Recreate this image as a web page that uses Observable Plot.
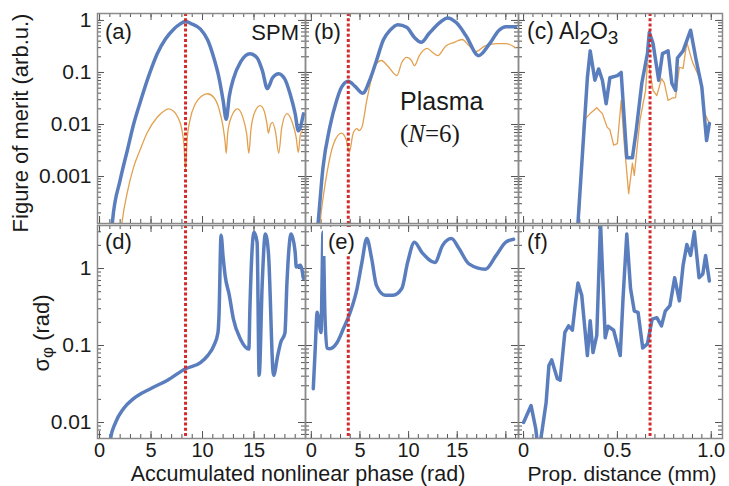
<!DOCTYPE html>
<html><head><meta charset="utf-8">
<script src="https://cdn.jsdelivr.net/npm/d3@7"></script>
<script src="https://cdn.jsdelivr.net/npm/@observablehq/plot@0.6"></script>
<style>
html,body{margin:0;padding:0;background:#fff;}
#chart{position:relative;width:729px;height:486px;overflow:hidden;font-family:"Liberation Sans",Arial,sans-serif;}
</style></head><body><div id="chart"></div>
<script>
// ---------- data: [x, value] ----------
const spmBlue = [[1.1,5e-5],[1.26,1.4e-4],[2.0,8.5e-4],[2.7,3.2e-3],[3.3,0.01],[4.0,0.029],[4.8,0.089],[5.6,0.23],[6.4,0.44],[7.2,0.68],[7.8,0.85],[8.35,0.95],[9.0,0.85],[9.8,0.68],[10.5,0.42],[11.1,0.19],[11.6,0.079],[12.0,0.029],[12.3,0.0126],[12.6,0.035],[13.0,0.076],[13.7,0.16],[14.6,0.23],[15.3,0.19],[15.8,0.11],[16.3,0.049],[16.8,0.079],[17.4,0.095],[18.0,0.074],[18.5,0.039],[19.0,0.016],[19.3,0.0076],[19.8,0.016]];
const spmOrange = [[2.0,6e-5],[2.2,1.4e-4],[2.7,5e-4],[3.3,1.5e-3],[4.0,3.5e-3],[4.6,6.8e-3],[5.6,0.0138],[6.2,0.0178],[6.7,0.02],[7.2,0.018],[7.6,0.0138],[8.0,0.0079],[8.2,0.004],[8.35,0.0014],[8.5,0.005],[8.8,0.0126],[9.3,0.025],[9.9,0.035],[10.5,0.039],[11.1,0.033],[11.6,0.02],[12.0,0.0089],[12.2,0.0045],[12.3,0.0028],[12.45,0.007],[12.8,0.014],[13.4,0.02],[13.9,0.014],[14.3,0.0063],[14.5,0.0028],[14.7,0.0079],[15.1,0.0178],[15.6,0.023],[16.0,0.0178],[16.25,0.0105],[16.4,0.0068],[16.6,0.01],[16.8,0.011],[17.1,0.007],[17.4,0.0028],[17.7,0.0089],[18.2,0.0162],[18.7,0.0112],[19.1,0.0056],[19.3,0.0029],[19.5,0.0063],[19.7,0.0076]];
const plasmaBlue = [[0.5,5e-5],[0.7,1.3e-4],[1.2,1.5e-3],[1.9,8.9e-3],[2.6,0.029],[3.1,0.052],[3.8,0.068],[4.5,0.054],[5.3,0.04],[6.0,0.071],[6.7,0.17],[7.4,0.42],[8.1,0.65],[8.9,0.83],[9.8,0.74],[10.6,0.47],[11.3,0.38],[12.1,0.56],[13.2,0.91],[14.0,1.12],[14.9,0.91],[15.9,0.51],[17.2,0.21],[18.3,0.35],[19.3,0.65],[20.0,0.76],[21.0,0.76]];
const plasmaOrange = [[0.7,5e-5],[0.9,1.3e-4],[1.6,1.15e-3],[2.3,4.3e-3],[3.1,6.8e-3],[3.6,5e-3],[3.9,2.9e-3],[4.3,6.8e-3],[4.7,8.3e-3],[4.9,7.6e-3],[5.2,8.9e-3],[5.7,0.029],[6.2,0.079],[6.7,0.148],[7.2,0.17],[7.9,0.13],[8.8,0.087],[9.3,0.155],[9.8,0.195],[10.3,0.17],[10.6,0.135],[11.1,0.21],[11.9,0.29],[12.5,0.24],[13.0,0.21],[13.8,0.32],[14.7,0.38],[15.5,0.43],[16.2,0.33],[16.9,0.25],[17.8,0.32],[19.0,0.36],[20.0,0.36],[21.0,0.30]];
const al2o3Blue = [[0.285,5e-5],[0.29,1.3e-4],[0.34,0.079],[0.355,0.26],[0.38,0.071],[0.40,0.117],[0.42,0.071],[0.44,0.025],[0.46,0.079],[0.50,0.087],[0.52,0.1],[0.55,0.0023],[0.58,0.0023],[0.60,0.0076],[0.63,0.062],[0.66,0.23],[0.67,0.59],[0.69,0.36],[0.72,0.071],[0.74,0.23],[0.77,0.26],[0.79,0.062],[0.81,0.045],[0.82,0.19],[0.85,0.26],[0.89,0.65],[0.92,0.17],[0.95,0.052],[0.975,0.0049],[0.99,0.0105]];
const al2o3Orange = [[0.29,5e-5],[0.295,1.3e-4],[0.32,0.012],[0.355,0.0162],[0.39,0.021],[0.42,0.0162],[0.445,0.0089],[0.46,0.0079],[0.48,0.004],[0.50,0.0043],[0.52,0.029],[0.535,0.005],[0.56,4.7e-4],[0.58,1.8e-3],[0.59,1.05e-3],[0.62,0.012],[0.65,0.045],[0.66,0.148],[0.67,0.126],[0.69,0.045],[0.71,0.036],[0.735,0.076],[0.75,0.063],[0.77,0.029],[0.79,0.032],[0.81,0.033],[0.83,0.126],[0.85,0.12],[0.87,0.38],[0.90,0.158],[0.94,0.076],[0.965,0.0162],[0.99,0.0105]];
const spmSigma = [[1.0,0.004],[1.07,0.0062],[1.55,0.01],[2.3,0.015],[3.3,0.0204],[4.95,0.0275],[6.6,0.0355],[8.35,0.05],[9.8,0.06],[10.5,0.074],[11.1,0.1],[11.5,0.148],[11.6,0.245],[11.8,2.7],[12.0,1.4],[12.2,0.8],[12.6,0.45],[13.0,0.22],[13.7,0.12],[14.5,0.09],[14.6,0.3],[15.0,2.95],[15.3,2.2],[15.5,0.041],[15.8,0.66],[16.1,2.8],[16.4,1.6],[16.9,0.041],[17.3,0.074],[17.6,0.11],[18.0,0.145],[18.2,0.66],[18.6,2.8],[19.0,1.6],[19.1,1.05],[19.5,1.1],[19.8,0.74]];
const plasmaSigma = [[0.2,0.0275],[0.4,0.091],[0.6,0.27],[0.7,0.24],[1.0,0.148],[1.1,0.66],[1.2,2.95],[1.4,0.245],[1.6,0.093],[1.9,0.091],[2.6,0.107],[3.3,0.166],[4.0,0.27],[4.7,0.55],[5.2,1.2],[5.7,2.45],[6.2,1.35],[6.7,0.6],[7.6,0.45],[8.4,0.45],[9.3,0.55],[9.9,1.2],[10.6,2.2],[11.4,1.6],[12.7,1.2],[13.5,2.0],[14.4,2.45],[15.2,1.8],[16.2,1.15],[17.9,0.98],[19.0,1.48],[20.0,2.2],[20.8,2.4]];
const al2o3Sigma = [[0.0,0.01],[0.04,0.0166],[0.065,0.0083],[0.08,0.004],[0.10,0.0083],[0.12,0.018],[0.135,0.055],[0.15,0.065],[0.18,0.037],[0.195,0.0355],[0.22,0.148],[0.24,0.18],[0.26,0.158],[0.275,0.33],[0.29,0.65],[0.31,0.45],[0.34,0.074],[0.355,0.21],[0.37,0.081],[0.39,0.135],[0.41,4.0],[0.435,0.126],[0.45,0.178],[0.48,0.158],[0.515,0.074],[0.53,0.41],[0.55,2.8],[0.57,0.55],[0.59,0.28],[0.61,0.27],[0.635,0.093],[0.66,0.105],[0.685,0.22],[0.71,0.23],[0.735,0.18],[0.755,0.28],[0.78,0.33],[0.805,0.76],[0.83,0.38],[0.85,1.1],[0.87,2.05],[0.89,1.48],[0.91,3.0],[0.935,0.76],[0.955,0.85],[0.97,1.48],[0.99,0.69]];

const spmOptimum = 8.35;      // rad
const plasmaOptimum = 3.8;    // rad
const al2o3Optimum = 0.674;   // mm

// ---------- ticks ----------
const phaseTickValues = [0, 5, 10, 15];
const phaseTickLabels = ["0", "5", "10", "15"];
const phaseMajor = [0, 5, 10, 15, 20];
const phaseMinor = d3.range(0, 22, 1);
const distTickValues = [0, 0.5, 1.0];
const distTickLabels = ["0", "0.5", "1.0"];
const distMajor = [0, 0.5, 1.0];
const distMinor = d3.range(0, 21).map(i => i * 0.05);
const fomTickValues = [1, 0.1, 0.01, 0.001];
const fomTickLabels = ["1", "0.1", "0.01", "0.001"];
const sigmaTickValues = [1, 0.1, 0.01];
const sigmaTickLabels = ["1", "0.1", "0.01"];

const BLUE = "#5a7ebd", ORANGE = "#e3a04f", RED = "#d42a2a";
const FONT = "'Liberation Sans', Arial, sans-serif";

const topY = [1.25e-4, 1.36], botY = [0.0062, 3.62];
const phaseXa = [-0.2, 20.0], phaseXb = [-0.6, 21.3], distX = [-0.027, 1.06];

function logMinor(dom) {
  return d3.scaleLog().domain(dom).ticks().filter(v => v > dom[0] && v < dom[1]);
}
function logMajor(dom) {
  return logMinor(dom).filter(v => Math.abs(Math.log10(v) - Math.round(Math.log10(v))) < 1e-9);
}

function panel(o) {
  const W = o.w, H = o.h;
  const inX = v => v >= o.xDomain[0] && v <= o.xDomain[1];
  const xMinor = o.xMinor.filter(inX), xMajor = o.xMajor.filter(inX);
  const yMinor = logMinor(o.yDomain), yMajor = logMajor(o.yDomain);
  const tk = {stroke: "#555", strokeWidth: 1};
  const mn = 4, mj = 7;
  const marks = [
    Plot.tickX(xMinor, {x: d => d, insetTop: H - mn, ...tk}),
    Plot.tickX(xMinor, {x: d => d, insetBottom: H - mn, ...tk}),
    Plot.tickX(xMajor, {x: d => d, insetTop: H - mj, ...tk}),
    Plot.tickX(xMajor, {x: d => d, insetBottom: H - mj, ...tk}),
    Plot.tickY(yMinor, {y: d => d, insetRight: W - mn, ...tk}),
    Plot.tickY(yMinor, {y: d => d, insetLeft: W - mn, ...tk}),
    Plot.tickY(yMajor, {y: d => d, insetRight: W - mj, ...tk}),
    Plot.tickY(yMajor, {y: d => d, insetLeft: W - mj, ...tk})
  ];
  for (const s of o.series) {
    marks.push(Plot.line(s.data, {x: d => d[0], y: d => d[1], stroke: s.color, strokeWidth: s.width, curve: o.curve, clip: true, strokeLinejoin: "round"}));
  }
  marks.push(Plot.ruleX([o.red], {x: d => d, stroke: RED, strokeWidth: 3, strokeDasharray: "3,2.2"}));
  marks.push(Plot.frame({stroke: "#8a8a8a", strokeWidth: 1.5}));
  if (o.xLabels) {
    const [vals, labs] = o.xLabels;
    marks.push(Plot.axisX({ticks: vals, tickSize: 0, tickPadding: 4, tickFormat: d => labs[vals.indexOf(d)], fontSize: 20, fontFamily: FONT, label: null}));
  }
  if (o.yLabels) {
    const [vals, labs] = o.yLabels;
    marks.push(Plot.axisY({ticks: vals, tickSize: 0, tickPadding: 6, tickFormat: d => labs[vals.indexOf(d)], fontSize: 21, fontFamily: FONT, label: null}));
  }
  const svg = Plot.plot({
    width: W, height: H,
    marginLeft: 0, marginRight: 0, marginTop: 0, marginBottom: 0,
    x: {domain: o.xDomain, axis: o.xLabels ? undefined : null},
    y: {type: "log", domain: o.yDomain, axis: o.yLabels ? undefined : null},
    style: {overflow: "visible", background: "none", fontFamily: FONT, fontSize: "21px", color: "#1a1a1a"},
    marks
  });
  svg.style.position = "absolute";
  svg.style.left = o.left + "px";
  svg.style.top = o.top + "px";
  svg.style.maxWidth = "none";
  return svg;
}

const chart = document.getElementById("chart");
const cols = [{left: 97, w: 208}, {left: 305, w: 213}, {left: 518, w: 204}];
const rows = [{top: 13, h: 210}, {top: 225, h: 213}];

const panels = [
  {c: 0, r: 0, xDomain: phaseXa, yDomain: topY, xMinor: phaseMinor, xMajor: phaseMajor, curve: "monotone-x", red: spmOptimum,
   series: [{data: spmOrange, color: ORANGE, width: 1.3}, {data: spmBlue, color: BLUE, width: 3.5}], yLabels: [fomTickValues, fomTickLabels]},
  {c: 1, r: 0, xDomain: phaseXb, yDomain: topY, xMinor: phaseMinor, xMajor: phaseMajor, curve: "monotone-x", red: plasmaOptimum,
   series: [{data: plasmaOrange, color: ORANGE, width: 1.3}, {data: plasmaBlue, color: BLUE, width: 3.5}]},
  {c: 2, r: 0, xDomain: distX, yDomain: topY, xMinor: distMinor, xMajor: distMajor, curve: "linear", red: al2o3Optimum,
   series: [{data: al2o3Orange, color: ORANGE, width: 1.3}, {data: al2o3Blue, color: BLUE, width: 3.5}]},
  {c: 0, r: 1, xDomain: phaseXa, yDomain: botY, xMinor: phaseMinor, xMajor: phaseMajor, curve: "monotone-x", red: spmOptimum,
   series: [{data: spmSigma, color: BLUE, width: 3.5}], xLabels: [phaseTickValues, phaseTickLabels], yLabels: [sigmaTickValues, sigmaTickLabels]},
  {c: 1, r: 1, xDomain: phaseXb, yDomain: botY, xMinor: phaseMinor, xMajor: phaseMajor, curve: "monotone-x", red: plasmaOptimum,
   series: [{data: plasmaSigma, color: BLUE, width: 3.5}], xLabels: [phaseTickValues, phaseTickLabels]},
  {c: 2, r: 1, xDomain: distX, yDomain: botY, xMinor: distMinor, xMajor: distMajor, curve: "linear", red: al2o3Optimum,
   series: [{data: al2o3Sigma, color: BLUE, width: 3.5}], xLabels: [distTickValues, distTickLabels]}
];
for (const p of panels) {
  chart.appendChild(panel({...p, left: cols[p.c].left, w: cols[p.c].w, top: rows[p.r].top, h: rows[p.r].h}));
}

// ---------- annotations ----------
const overlay = `
<svg xmlns="http://www.w3.org/2000/svg" width="729" height="486" style="position:absolute;left:0;top:0" font-family="${FONT}" fill="#1a1a1a">
<rect x="323" y="227" width="38" height="29" fill="#fff"/>
<text x="105" y="39" font-size="22">(a)</text>
<text x="299" y="40" font-size="22" text-anchor="end">SPM</text>
<text x="314" y="39" font-size="22">(b)</text>
<text x="527" y="39" font-size="23">(c) Al<tspan font-size="19" dy="5">2</tspan><tspan dy="-5">O</tspan><tspan font-size="19" dy="5">3</tspan></text>
<text x="400" y="110" font-size="25">Plasma</text>
<text x="400" y="142" font-size="25" font-family="'Liberation Serif', 'Times New Roman', serif">(<tspan font-style="italic">N</tspan>=6)</text>
<text x="105" y="249" font-size="22">(d)</text>
<text x="328" y="249" font-size="22">(e)</text>
<text x="527" y="249" font-size="22">(f)</text>
<text transform="translate(28,123) rotate(-90)" text-anchor="middle" font-size="22">Figure of merit (arb.u.)</text>
<text transform="translate(49,333) rotate(-90)" text-anchor="middle" font-size="22">σ<tspan font-size="17" dy="4">φ</tspan><tspan dy="-4"> (rad)</tspan></text>
<text x="298" y="481" font-size="21.5" text-anchor="middle">Accumulated nonlinear phase (rad)</text>
<text x="622" y="481" font-size="21" text-anchor="middle">Prop. distance (mm)</text>
</svg>`;
chart.insertAdjacentHTML("beforeend", overlay);
</script></body></html>
